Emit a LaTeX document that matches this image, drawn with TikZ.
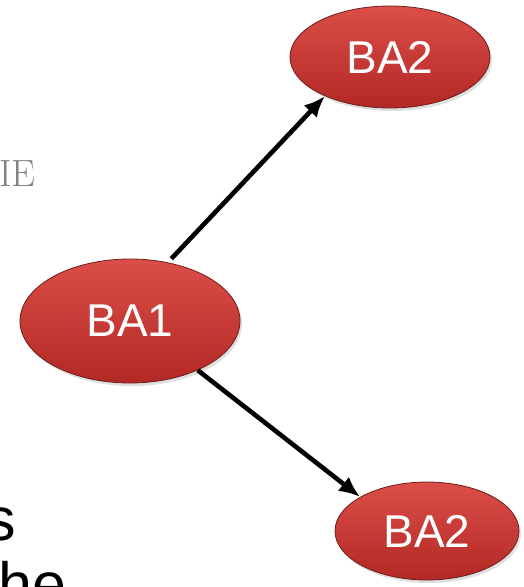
\documentclass[tikz,border=0pt]{standalone}
\usepackage{fontspec}
\newfontfamily\arialfont{Liberation Sans}
\usetikzlibrary{shapes.geometric,arrows.meta,shadows}
\definecolor{batop}{RGB}{220,78,72}
\definecolor{bamid}{RGB}{205,58,52}
\definecolor{babot}{RGB}{178,40,36}
\definecolor{baedge}{RGB}{110,30,28}
\definecolor{slidegrey}{RGB}{130,130,130}
\tikzset{
  baell/.style={ellipse, inner sep=0pt, draw=baedge, line width=0.8pt,
    top color=batop, middle color=bamid, bottom color=babot,
    drop shadow={opacity=0.25, shadow xshift=2pt, shadow yshift=-3pt},
    text=white, font=\arialfont\fontsize{46}{50}\selectfont},
  baarrow/.style={-{Latex[length=21pt,width=18pt]}, line width=4.6pt, black},
  slidetext/.style={font=\arialfont\fontsize{61}{65}\selectfont, text=black, inner sep=0pt},
}
\begin{document}
\begin{tikzpicture}[x=1pt,y=-1pt]
\useasboundingbox (0,0) rectangle (524,587);
\clip (0,0) rectangle (524,587);
\fill[white] (0,0) rectangle (524,587);
% background slide remnants
\node[anchor=base east, inner sep=0pt, text=slidegrey, font=\fontsize{38}{40}\selectfont] (ie) at (36,186) {IE};
\node[slidetext, anchor=base east] (s) at (16,540) {s};
\node[slidetext, anchor=base west] (the) at (-19,605) {the};
% ellipses
\node[baell, minimum width=220pt, minimum height=124pt] (ba1) at (130,321) {BA1};
\node[baell, minimum width=200pt, minimum height=102pt] (ba2t) at (390,57) {BA2};
\node[baell, minimum width=184pt, minimum height=98pt] (ba2b) at (427,531) {BA2};
% arrows
\draw[baarrow] ([shift={(2pt,4pt)}]ba1.56) -- (ba2t.211);
\draw[baarrow] (ba1.-36) -- (ba2b.153);
\end{tikzpicture}
\end{document}
